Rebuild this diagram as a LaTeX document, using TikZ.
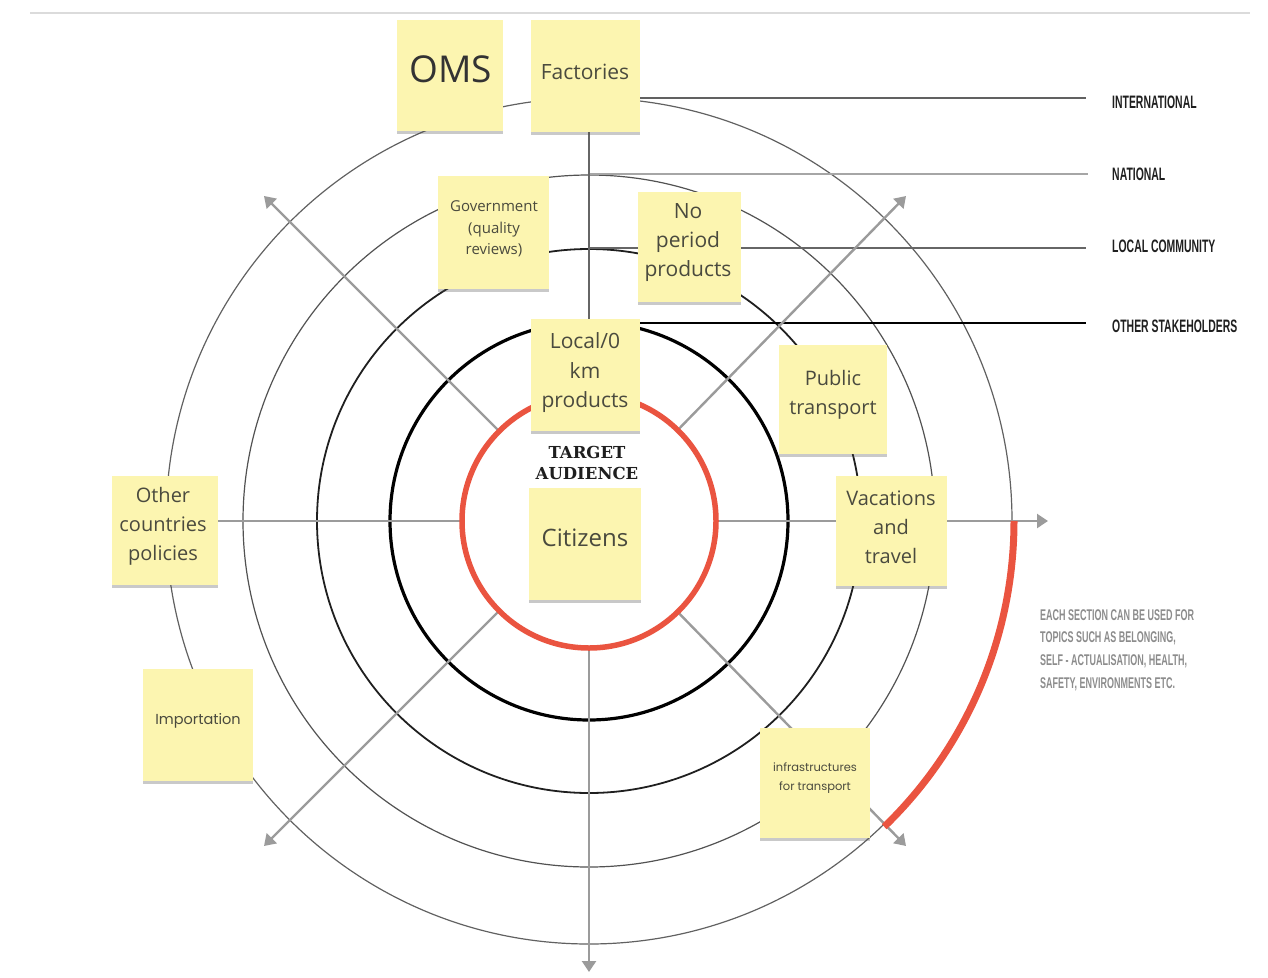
\documentclass[tikz,border=0pt]{standalone}
\usepackage{fontspec}
\setmainfont{Open Sans}
\newfontfamily\geofont{Poppins}
\newfontfamily\slabfont{DejaVu Serif}
\newfontfamily\condfont[FakeStretch=0.58]{Liberation Sans}
\usetikzlibrary{arrows.meta,shadows}

\definecolor{notefill}{HTML}{FCF5B0}
\definecolor{notetext}{HTML}{4A4A3E}
\definecolor{axisgray}{HTML}{9B9B9B}
\definecolor{ringred}{HTML}{EA5440}

\tikzset{
  axis/.style={draw=axisgray, line width=2.4pt, -{Triangle[length=11pt,width=14pt]}},
  note/.style={fill=notefill, draw=none, inner sep=0pt,
    drop shadow={shadow xshift=0pt, shadow yshift=-2.5pt, opacity=0.3, fill=black!70}},
  notetxt/.style={text=notetext, align=center, inner sep=0pt},
  levellabel/.style={font=\condfont\bfseries\fontsize{18}{18}\selectfont, text=black!88,
    anchor=west, inner sep=0pt},
}

\begin{document}
\begin{tikzpicture}[x=1pt,y=-1pt]
\useasboundingbox (0,0) rectangle (1268,977);

% thin rule along the top
\draw[draw=black!14, line width=2pt] (30,13) -- (1250,13);

\coordinate (c) at (589,521);

% concentric levels
\draw[draw=black!62, line width=1.2pt] (c) circle[radius=423];
\draw[draw=black!68, line width=1.2pt] (c) circle[radius=346];
\draw[draw=black!88, line width=1.8pt] (c) circle[radius=272];
\draw[draw=black, line width=3.2pt] (c) circle[radius=199];

% leader lines to the level names
\coordinate (l1) at (589,98);
\coordinate (l2) at (589,174);
\coordinate (l3) at (589,248);
\coordinate (l4) at (589,323);
\coordinate (e1) at (1086,98);
\coordinate (e2) at (1088,174);
\coordinate (e3) at (1086,248);
\coordinate (e4) at (1086,323);
\draw[draw=black!62, line width=1.6pt] (l1) -- (e1);
\draw[draw=black!35, line width=1.4pt] (l2) -- (e2);
\draw[draw=black!60, line width=1.4pt] (l3) -- (e3);
\draw[draw=black, line width=1.8pt] (l4) -- (e4);

% axes
\coordinate (aR) at (1048,521);
\coordinate (aL) at (129,521);
\coordinate (aD) at (589,972);
\coordinate (aU) at (589,61);
\coordinate (aUL) at (264,196);
\coordinate (aUR) at (906,196);
\coordinate (aDL) at (264,846);
\coordinate (aDR) at (906,846);
\draw[axis] (c) -- (aR);
\draw[axis] (c) -- (aL);
\draw[axis] (c) -- (aD);
\draw[axis] (c) -- (aUL);
\draw[axis] (c) -- (aUR);
\draw[axis] (c) -- (aDL);
\draw[axis] (c) -- (aDR);
\draw[draw=black!60, line width=1.6pt] (c) -- (aU);

% target audience core
\fill[white] (c) circle[radius=127];
\draw[draw=ringred, line width=5.5pt] (c) circle[radius=127];
\coordinate (arcstart) at (1014,521);
\draw[draw=ringred, line width=7pt] (arcstart) arc[start angle=0, end angle=46, radius=425];

% sticky notes
\node[note, minimum width=106pt, minimum height=111pt] (oms) at (450,75.5) {};
\node[note, minimum width=109pt, minimum height=112pt] (fac) at (585.5,76) {};
\node[note, minimum width=111pt, minimum height=113pt] (gov) at (493.5,232.5) {};
\node[note, minimum width=103pt, minimum height=110pt] (nop) at (689.5,247) {};
\node[note, minimum width=109pt, minimum height=112pt] (loc) at (585.5,375) {};
\node[note, minimum width=112pt, minimum height=112pt] (cit) at (585,544) {};
\node[note, minimum width=108pt, minimum height=109pt] (pub) at (833,399.5) {};
\node[note, minimum width=111pt, minimum height=110pt] (vac) at (891.5,531) {};
\node[note, minimum width=106pt, minimum height=109pt] (oth) at (165,530.5) {};
\node[note, minimum width=110pt, minimum height=112pt] (imp) at (198,725) {};
\node[note, minimum width=110pt, minimum height=110pt] (inf) at (815,783) {};

% note texts
\node[notetxt, font=\fontsize{37}{40}\selectfont, text=black!80] (omsT) at (451,69) {OMS};
\node[notetxt, font=\fontsize{21}{28}\selectfont] (facT) at (585,72) {Factories};
\node[notetxt, font=\fontsize{15}{21.5}\selectfont] (govT) at (494,229) {Government\\(quality\\reviews)};
\node[notetxt, font=\fontsize{21}{29}\selectfont] (nopT) at (688,243) {No\\period\\products};
\node[notetxt, font=\fontsize{21}{29.5}\selectfont] (locT) at (585,373) {Local/0\\km\\products};
\node[notetxt, font=\fontsize{24}{28}\selectfont] (citT) at (585,538) {Citizens};
\node[notetxt, font=\fontsize{20}{28.5}\selectfont] (pubT) at (833,395) {Public\\transport};
\node[notetxt, font=\fontsize{20}{29}\selectfont] (vacT) at (891,527) {Vacations\\and\\travel};
\node[notetxt, font=\fontsize{20}{29}\selectfont] (othT) at (163,526) {Other\\countries\\policies};
\node[notetxt, font=\geofont\fontsize{14.5}{18}\selectfont] (impT) at (198,721) {Importation};
\node[notetxt, font=\geofont\fontsize{11.5}{19}\selectfont] (infT) at (815,778) {infrastructures\\for transport};

% centre title
\node[align=center, inner sep=0pt, text=black!88,
  font=\slabfont\bfseries\fontsize{16.5}{21}\selectfont] (ta) at (587,463) {TARGET\\AUDIENCE};

% level names
\node[levellabel] (intl) at (1112,102) {INTERNATIONAL};
\node[levellabel] (natl) at (1112,174) {NATIONAL};
\node[levellabel] (lcom) at (1112,246) {LOCAL COMMUNITY};
\node[levellabel] (ostk) at (1112,326) {OTHER STAKEHOLDERS};

% side remark
\node[anchor=north west, align=left, inner sep=0pt, text=black!45,
  font=\condfont\bfseries\fontsize{15.5}{22.7}\selectfont] (remark) at (1040,609)
  {EACH SECTION CAN BE USED FOR\\TOPICS SUCH AS BELONGING,\\SELF - ACTUALISATION, HEALTH,\\SAFETY, ENVIRONMENTS ETC.};
\end{tikzpicture}
\end{document}
